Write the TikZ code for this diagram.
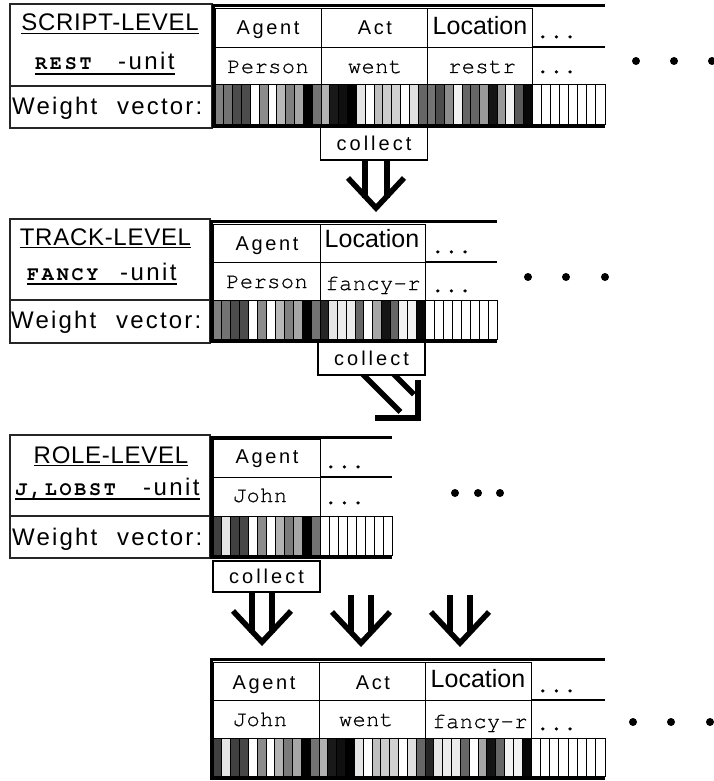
\documentclass[tikz,border=0pt]{standalone}
\usepackage{fontspec}
\usetikzlibrary{calc,backgrounds}
\setmainfont{Liberation Sans}
\newfontfamily\hvH[LetterSpace=3]{Liberation Sans}
\newfontfamily\hvT[LetterSpace=13]{Liberation Sans}
\newfontfamily\hvLoc{Liberation Sans}
\newfontfamily\hvW[LetterSpace=9]{Liberation Sans}
\newfontfamily\hvC[LetterSpace=15]{Liberation Sans}
\newfontfamily\hvU[LetterSpace=10]{Liberation Sans}
\newfontfamily\cmr[LetterSpace=2,FakeBold=0.7]{texgyrecursor-regular.otf}
\newfontfamily\cmb[LetterSpace=14]{texgyrecursor-bold.otf}
\newcommand\fHead{\hvH\fontsize{24}{28}\selectfont}
\newcommand\fUnit{\hvU\fontsize{24}{28}\selectfont}
\newcommand\fBold{\cmb\fontsize{20}{24}\selectfont}
\newcommand\fWV{\hvW\fontsize{24}{28}\selectfont}
\newcommand\fSlot{\hvT\fontsize{20}{24}\selectfont}
\newcommand\fLoc{\hvLoc\fontsize{25}{29}\selectfont}
\newcommand\fMono{\cmr\fontsize{22}{26}\selectfont}
\newcommand\fColl{\hvC\fontsize{20}{24}\selectfont}
\def\wPerson{.5,.45,.3,.3,1,.55,1,.72,.5,.65,0,.45}
\def\wJohn{.25,.9,.25,.28,1,.55,1,.7,.48,.65,0,.45}
\def\wWent{.7,.1,.06,0,.9,1,.75,.8,.82,1,.88,.4}
\def\wRestr{.45,.3,.55,.95,.4,.4,.6,.08,.6,.95,.35,.03}
\def\wFancy{.15,.9,.92,.92,.4,1,.65,.08,.4,.95,.95,.03}
\def\wBlank{1,1,1,1,1,1,1,1}
\newcommand\stripes[6]{%
  \pgfmathsetmacro\stripw{(#2-#1)/#5}%
  \foreach \g [count=\i from 0, evaluate=\g as \pc using int(round(\g*100))] in #6 {%
    \draw[line width=0.9pt, fill=white!\pc!black] ({#1+\i*\stripw},#3) rectangle ({#1+(\i+1)*\stripw},#4);
  }}
\tikzset{
  panel/.style={draw=black!85, line width=1.3pt},
  cellline/.style={draw=black, line width=0.9pt},
  frame/.style={draw=black, line width=3pt},
  txt/.style={inner sep=0pt, anchor=base},
  txtw/.style={inner sep=0pt, anchor=base west},
  collectbox/.style={draw=black, line width=1.2pt, fill=white, minimum width=107pt, minimum height=33pt, inner sep=0pt, font=\fColl},
  arr/.style={line width=5.5pt, line cap=butt, line join=miter},
  dotnode/.style={circle, fill=black, inner sep=0pt, minimum size=8pt},
  uline/.style={line width=1.3pt},
}
\begin{document}
\begin{tikzpicture}[x=1pt,y=-1pt]
\useasboundingbox (0,0) rectangle (714,781);
\begin{scope}[on background layer]
\fill[white] (0,0) rectangle (714,781);
\end{scope}

% ================= Block 1: SCRIPT-LEVEL
\draw[panel] (10,4) rectangle (212,128);
\draw[panel] (10,86) -- (212,86);
\stripes{215}{321}{84}{124}{12}{\wPerson}
\stripes{321}{427}{84}{124}{12}{\wWent}
\stripes{427}{532}{84}{124}{12}{\wRestr}
\stripes{532}{605}{84}{124}{8}{\wBlank}
\draw[cellline] (215,8) rectangle (321,47) (321,8) rectangle (427,47) (427,8) rectangle (532,47);
\draw[cellline] (215,47) rectangle (321,84) (321,47) rectangle (427,84) (427,47) rectangle (532,84);
\draw[line width=2pt] (532,47) -- (605,47);
\draw[frame] (605,5.5) -- (213.5,5.5) -- (213.5,126.5) -- (605,126.5);
\node[txt, font=\fHead] (h1) at (110,31) {SCRIPT-LEVEL};
\draw[uline] ([yshift=-2.5pt]h1.base west) -- ([yshift=-2.5pt]h1.base east);
\node[txtw, font=\fBold] (u1a) at (35,70) {REST};
\node[txtw, font=\fUnit] (u1b) at (118,70) {-unit};
\draw[uline] ([yshift=-4pt]u1a.base west) -- ([yshift=-4pt]u1b.base east);
\node[txtw, font=\fWV] (w1) at (12,114) {Weight\hspace{20pt}vector:};
\node[txt, font=\fSlot] (a1) at (268,35) {Agent};
\node[txt, font=\fSlot] (act1) at (375,35) {Act};
\node[txt, font=\fLoc] (loc1) at (480,35) {Location};
\node[txtw, font=\fMono] (d1) at (536,38) {...};
\node[txt, font=\fMono] (p1) at (268,73) {Person};
\node[txt, font=\fMono] (went1) at (375,73) {went};
\node[txt, font=\fMono] (r1) at (482,73) {restr};
\node[txtw, font=\fMono] (dd1) at (536,73) {...};
\node[dotnode] (e1a) at (636,61) {};
\node[dotnode] (e1b) at (674,61) {};
\node[dotnode] (e1c) at (712,61) {};
\node[collectbox] (c1) at (374,143.5) {collect};
\coordinate (t1) at (376,208);
\draw[arr] ([xshift=-9pt]c1.south) -- ++(0,37);
\draw[arr] ([xshift=13pt]c1.south) -- ++(0,37);
\draw[arr] ($(t1)+(-28,-30)$) -- (t1) -- ($(t1)+(28,-30)$);

% ================= Block 2: TRACK-LEVEL
\draw[panel] (10,219) rectangle (210,343);
\draw[panel] (10,300) -- (210,300);
\stripes{213}{320}{300}{339}{12}{\wPerson}
\stripes{320}{425}{300}{339}{12}{\wFancy}
\stripes{425}{497}{300}{339}{8}{\wBlank}
\draw[cellline] (213,224) rectangle (320,262) (320,224) rectangle (425,262);
\draw[cellline] (213,262) rectangle (320,300) (320,262) rectangle (425,300);
\draw[line width=2pt] (425,262) -- (497,262);
\draw[frame] (497,221) -- (211.5,221) -- (211.5,341) -- (497,341);
\node[txt, font=\fHead] (h2) at (105.5,245) {TRACK-LEVEL};
\draw[uline] ([yshift=-2.5pt]h2.base west) -- ([yshift=-2.5pt]h2.base east);
\node[txtw, font=\fBold] (u2a) at (27,280) {FANCY};
\node[txtw, font=\fUnit] (u2b) at (120,280) {-unit};
\draw[uline] ([yshift=-4pt]u2a.base west) -- ([yshift=-4pt]u2b.base east);
\node[txtw, font=\fWV] (w2) at (11,328) {Weight\hspace{20pt}vector:};
\node[txt, font=\fSlot] (a2) at (267,250) {Agent};
\node[txt, font=\fLoc] (loc2) at (372,247) {Location};
\node[txtw, font=\fMono] (d2) at (431,253) {...};
\node[txt, font=\fMono] (p2) at (267,288) {Person};
\node[txt, font=\fMono] (f2) at (373,290) {fancy-r};
\node[txtw, font=\fMono] (dd2) at (431,292) {...};
\node[dotnode] (e2a) at (528,277) {};
\node[dotnode] (e2b) at (566,277) {};
\node[dotnode] (e2c) at (605,277) {};
\node[collectbox] (c2) at (371.5,358.5) {collect};
\coordinate (t2) at (418,418);
\begin{scope}[on background layer]
\draw[arr] (361.4,373) -- (400.4,412);
\draw[arr] (392.6,373) -- (414,394.4);
\end{scope}
\draw[arr] (375,418) -- (t2) -- (418,380);

% ================= Block 3: ROLE-LEVEL
\draw[panel] (10,435) rectangle (210,558);
\draw[panel] (10,516) -- (210,516);
\stripes{213}{320}{516}{555}{12}{\wJohn}
\stripes{320}{392}{516}{555}{8}{\wBlank}
\draw[cellline] (213,439) rectangle (320,477);
\draw[cellline] (213,477) rectangle (320,516);
\draw[line width=2pt] (320,477) -- (392,477);
\draw[frame] (392,437) -- (211.5,437) -- (211.5,557) -- (392,557);
\node[txt, font=\fHead] (h3) at (111,463) {ROLE-LEVEL};
\draw[uline] ([yshift=-2.5pt]h3.base west) -- ([yshift=-2.5pt]h3.base east);
\node[txtw, font=\fBold] (u3a) at (15,495) {J,LOBST};
\node[txtw, font=\fUnit] (u3b) at (143,495) {-unit};
\draw[uline] ([yshift=-4pt]u3a.base west) -- ([yshift=-4pt]u3b.base east);
\node[txtw, font=\fWV] (w3) at (12,545) {Weight\hspace{20pt}vector:};
\node[txt, font=\fSlot] (a3) at (267,463) {Agent};
\node[txtw, font=\fMono] (d3) at (324,468) {...};
\node[txt, font=\fMono] (j3) at (260,502) {John};
\node[txtw, font=\fMono] (dd3) at (324,504) {...};
\node[dotnode] (e3a) at (455,493) {};
\node[dotnode] (e3b) at (478,493) {};
\node[dotnode] (e3c) at (500,493) {};
\node[collectbox, minimum height=31pt] (c3) at (266.5,576.5) {collect};

% ================= three arrows
\coordinate (t3a) at (262,642);
\coordinate (t3b) at (361,643);
\coordinate (t3c) at (460,643);
\draw[arr] ([xshift=-14.5pt]c3.south) -- ++(0,40);
\draw[arr] ([xshift=5.5pt]c3.south) -- ++(0,40);
\draw[arr] ($(t3a)+(-29,-31)$) -- (t3a) -- ($(t3a)+(29,-31)$);
\coordinate (s3b) at (361,595);
\coordinate (s3c) at (460,595);
\draw[arr] ($(s3b)+(-10,0)$) -- ++(0,38);
\draw[arr] ($(s3b)+(10,0)$) -- ++(0,38);
\draw[arr] ($(t3b)+(-29,-31)$) -- (t3b) -- ($(t3b)+(29,-31)$);
\draw[arr] ($(s3c)+(-10,0)$) -- ++(0,38);
\draw[arr] ($(s3c)+(10,0)$) -- ++(0,38);
\draw[arr] ($(t3c)+(-29,-31)$) -- (t3c) -- ($(t3c)+(29,-31)$);

% ================= Block 4: result
\stripes{213}{319}{738}{776}{12}{\wJohn}
\stripes{319}{425}{738}{776}{12}{\wWent}
\stripes{425}{531}{738}{776}{12}{\wFancy}
\stripes{531}{605}{738}{776}{8}{\wBlank}
\draw[cellline] (213,662) rectangle (319,700) (319,662) rectangle (425,700) (425,662) rectangle (531,700);
\draw[cellline] (213,700) rectangle (319,738) (319,700) rectangle (425,738) (425,700) rectangle (531,738);
\draw[line width=2pt] (531,700) -- (605,700);
\draw[frame] (605,659.5) -- (211.5,659.5) -- (211.5,778.5) -- (605,778.5);
\node[txt, font=\fSlot] (a4) at (264,689) {Agent};
\node[txt, font=\fSlot] (act4) at (373,689) {Act};
\node[txt, font=\fLoc] (loc4) at (478,687) {Location};
\node[txtw, font=\fMono] (d4) at (536,692) {...};
\node[txt, font=\fMono] (j4) at (260,726) {John};
\node[txt, font=\fMono] (went4) at (366,726) {went};
\node[txt, font=\fMono] (f4) at (480,728) {fancy-r};
\node[txtw, font=\fMono] (dd4) at (536,730) {...};
\node[dotnode] (e4a) at (633,722) {};
\node[dotnode] (e4b) at (671,722) {};
\node[dotnode] (e4c) at (710,722) {};
\end{tikzpicture}
\end{document}
